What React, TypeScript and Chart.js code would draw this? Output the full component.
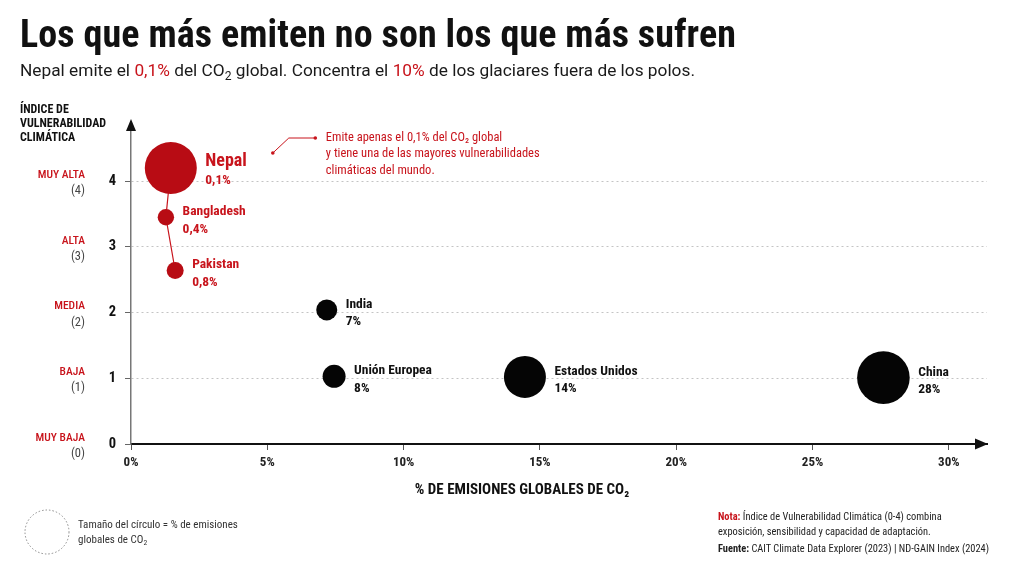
import React, { useEffect, useRef } from 'react';
import { Chart, registerables } from 'chart.js';

Chart.register(...registerables);

const FONT = '"Roboto Condensed", "Liberation Sans Narrow", "DejaVu Sans Condensed", Roboto, sans-serif';
const FONT_REG = 'Roboto, "Noto Sans", "Liberation Sans", sans-serif';
const RED = '#b80c14';
const TEXT_RED = '#c8141c';

// ---- data ----
const countries = ['Nepal', 'Bangladesh', 'Pakistan', 'India', 'Unión Europea', 'Estados Unidos', 'China'];
const xPositions = [1.46, 1.28, 1.62, 7.18, 7.45, 14.45, 27.6];
const vulnerabilityIndex = [4.2, 3.45, 2.64, 2.04, 1.03, 1.02, 1.01];
const shareLabels = ['0,1%', '0,4%', '0,8%', '7%', '8%', '14%', '28%'];
const bubbleSizes = [26, 8.2, 8.5, 10.5, 11.5, 21, 26.3];
const highlighted = [true, true, true, false, false, false, false];
const connectorCountries = ['Nepal', 'Bangladesh', 'Pakistan'];
const xTickValues = [0, 5, 10, 15, 20, 25, 30];
const yTickValues = [0, 1, 2, 3, 4];
const vulnerabilityLevels = ['MUY BAJA', 'BAJA', 'MEDIA', 'ALTA', 'MUY ALTA'];
const yAxisTitle = ['ÍNDICE DE', 'VULNERABILIDAD', 'CLIMÁTICA'];
const xAxisTitle = '% DE EMISIONES GLOBALES DE CO₂';
const annotationLines = [
  'Emite apenas el 0,1% del CO₂ global',
  'y tiene una de las mayores vulnerabilidades',
  'climáticas del mundo.',
];

const f = (size: number, weight: string | number = 'normal') => `${weight} ${size}px ${FONT}`;

const overlayPlugin = {
  id: 'overlay',
  afterDraw(chart: any) {
    const { ctx, chartArea, scales } = chart;
    const ys = scales.y;
    ctx.save();

    // arrows
    ctx.fillStyle = '#111';
    const ax = chartArea.left;
    ctx.beginPath();
    ctx.moveTo(ax, chartArea.top - 3);
    ctx.lineTo(ax - 5, chartArea.top + 9);
    ctx.lineTo(ax + 5, chartArea.top + 9);
    ctx.closePath();
    ctx.fill();
    const ay = chartArea.bottom;
    ctx.beginPath();
    ctx.moveTo(chartArea.right + 1, ay);
    ctx.lineTo(chartArea.right - 12, ay - 5.5);
    ctx.lineTo(chartArea.right - 12, ay + 5.5);
    ctx.closePath();
    ctx.fill();

    // y category labels
    ctx.textAlign = 'right';
    ctx.textBaseline = 'middle';
    yTickValues.forEach((v, i) => {
      const py = ys.getPixelForValue(v);
      ctx.font = f(11.5, 500);
      ctx.fillStyle = TEXT_RED;
      ctx.fillText(vulnerabilityLevels[i], 85, py - 6);
      ctx.font = f(12.5, 'normal');
      ctx.fillStyle = '#444';
      ctx.fillText(`(${v})`, 85, py + 10);
    });

    // y axis title
    ctx.textAlign = 'left';
    ctx.fillStyle = '#111';
    ctx.font = f(12, 'bold');
    yAxisTitle.forEach((t, i) => ctx.fillText(t, 20, 110 + i * 14.2));

    // x axis title
    ctx.textAlign = 'center';
    ctx.font = f(15, 'bold');
    ctx.fillText(xAxisTitle, 522, 490);

    // bubble labels
    const meta = chart.getDatasetMeta(0);
    ctx.textAlign = 'left';
    meta.data.forEach((el: any, i: number) => {
      const r = bubbleSizes[i];
      const lx = el.x + r + 8.5;
      const big = i === 0;
      ctx.fillStyle = highlighted[i] ? TEXT_RED : '#111';
      ctx.font = f(big ? 18 : 13.5, 'bold');
      ctx.fillText(countries[i], lx, el.y - (big ? 7 : 5.5));
      ctx.font = f(13.5, 'bold');
      ctx.fillText(shareLabels[i], lx, el.y + (big ? 13 : 12));
    });

    // annotation next to Nepal
    const nep = meta.data[0];
    const cx = nep.x;
    const cy = nep.y;
    ctx.strokeStyle = TEXT_RED;
    ctx.fillStyle = TEXT_RED;
    ctx.lineWidth = 1;
    ctx.beginPath();
    ctx.moveTo(cx + 102, cy - 15);
    ctx.lineTo(cx + 118, cy - 30);
    ctx.lineTo(cx + 144.5, cy - 30);
    ctx.stroke();
    [[cx + 102, cy - 15], [cx + 144.5, cy - 30]].forEach(([px, py]) => {
      ctx.beginPath();
      ctx.arc(px, py, 1.8, 0, Math.PI * 2);
      ctx.fill();
    });
    ctx.font = f(12.5, 'normal');
    annotationLines.forEach((t, i) => ctx.fillText(t, cx + 155, cy - 30 + i * 16.2));

    // size legend circle
    ctx.strokeStyle = '#888';
    ctx.lineWidth = 1;
    ctx.setLineDash([1.5, 2]);
    ctx.beginPath();
    ctx.arc(47, 532, 22, 0, Math.PI * 2);
    ctx.stroke();
    ctx.setLineDash([]);

    ctx.restore();
  },
};

export default function App() {
  const canvasRef = useRef<HTMLCanvasElement | null>(null);

  useEffect(() => {
    const canvas = canvasRef.current;
    if (!canvas) return;
    const lineData = countries
      .map((c, i) => ({ c, x: xPositions[i], y: vulnerabilityIndex[i] }))
      .filter((p) => connectorCountries.includes(p.c))
      .map((p) => ({ x: p.x, y: p.y }));

    const chart = new Chart(canvas, {
      type: 'bubble',
      data: {
        datasets: [
          {
            type: 'bubble',
            label: 'Países',
            data: countries.map((_, i) => ({ x: xPositions[i], y: vulnerabilityIndex[i], r: bubbleSizes[i] })),
            backgroundColor: highlighted.map((h) => (h ? RED : '#050505')),
            borderWidth: 0,
            hoverRadius: 0,
            order: 0,
          } as any,
          {
            type: 'line',
            label: 'conector',
            data: lineData,
            borderColor: TEXT_RED,
            borderWidth: 1.2,
            pointRadius: 0,
            showLine: true,
            fill: false,
            order: 1,
          } as any,
        ],
      },
      options: {
        animation: false,
        responsive: false,
        maintainAspectRatio: false,
        layout: { padding: { left: 0, right: 37, top: 122, bottom: 92 } },
        plugins: { legend: { display: false }, tooltip: { enabled: false }, title: { display: false } },
        events: [],
        scales: {
          x: {
            type: 'linear',
            min: 0,
            max: 31.4,
            afterFit: (s: any) => {
              s.height = 40;
            },
            afterBuildTicks: (s: any) => {
              s.ticks = xTickValues.map((v) => ({ value: v }));
            },
            ticks: {
              callback: (v: any) => `${v}%`,
              font: { family: FONT, size: 13, weight: 'bold' },
              color: '#222',
              padding: 5,
              maxRotation: 0,
              autoSkip: false,
            },
            grid: { drawOnChartArea: false, drawTicks: true, tickLength: 6, tickColor: '#555', tickWidth: 1 },
            border: { display: true, color: '#111', width: 2 },
          },
          y: {
            type: 'linear',
            min: 0,
            max: 4.9,
            afterFit: (s: any) => {
              s.width = 131;
            },
            afterBuildTicks: (s: any) => {
              s.ticks = yTickValues.map((v) => ({ value: v }));
            },
            ticks: {
              font: { family: FONT, size: 14.5, weight: 'bold' },
              color: '#111',
              padding: 9,
            },
            grid: { color: '#c4c4c4', lineWidth: 1, tickLength: 6, tickColor: '#666', drawTicks: true },
            border: { display: true, color: '#777', width: 1.5, dash: [2, 3] },
          },
        },
      } as any,
      plugins: [overlayPlugin],
    });
    return () => chart.destroy();
  }, []);

  const sub: React.CSSProperties = { fontSize: '0.7em', verticalAlign: '-0.3em', lineHeight: 0 };

  return (
    <div
      style={{
        position: 'absolute',
        left: 0,
        top: 0,
        width: 1024,
        height: 576,
        background: '#fff',
        overflow: 'hidden',
        fontFamily: FONT,
        color: '#111',
      }}
    >
      <canvas ref={canvasRef} width={1024} height={576} style={{ position: 'absolute', left: 0, top: 0, width: 1024, height: 576 }} />
      <div style={{ position: 'absolute', left: 20, top: 14.5, fontSize: 38, lineHeight: '38px', fontWeight: 700, whiteSpace: 'nowrap', letterSpacing: 0.1 }}>
        Los que más emiten no son los que más sufren
      </div>
      <div style={{ position: 'absolute', left: 20, top: 62.3, fontSize: 17.3, lineHeight: '17.3px', whiteSpace: 'nowrap', color: '#1a1a1a', fontFamily: FONT_REG }}>
        Nepal emite el <span style={{ color: TEXT_RED }}>0,1%</span> del CO<sub style={sub}>2</sub> global. Concentra el{' '}
        <span style={{ color: TEXT_RED }}>10%</span> de los glaciares fuera de los polos.
      </div>
      <div style={{ position: 'absolute', left: 78, top: 517, fontSize: 11, lineHeight: '15px', color: '#333', whiteSpace: 'nowrap' }}>
        Tamaño del círculo = % de emisiones
        <br />
        globales de CO<sub style={sub}>2</sub>
      </div>
      <div style={{ position: 'absolute', left: 718, top: 509, fontSize: 10.4, lineHeight: '15px', color: '#222', whiteSpace: 'nowrap' }}>
        <div>
          <b style={{ color: TEXT_RED }}>Nota:</b> Índice de Vulnerabilidad Climática (0-4) combina
        </div>
        <div>exposición, sensibilidad y capacidad de adaptación.</div>
        <div style={{ marginTop: 2 }}>
          <b>Fuente:</b> CAIT Climate Data Explorer (2023) | ND-GAIN Index (2024)
        </div>
      </div>
    </div>
  );
}
